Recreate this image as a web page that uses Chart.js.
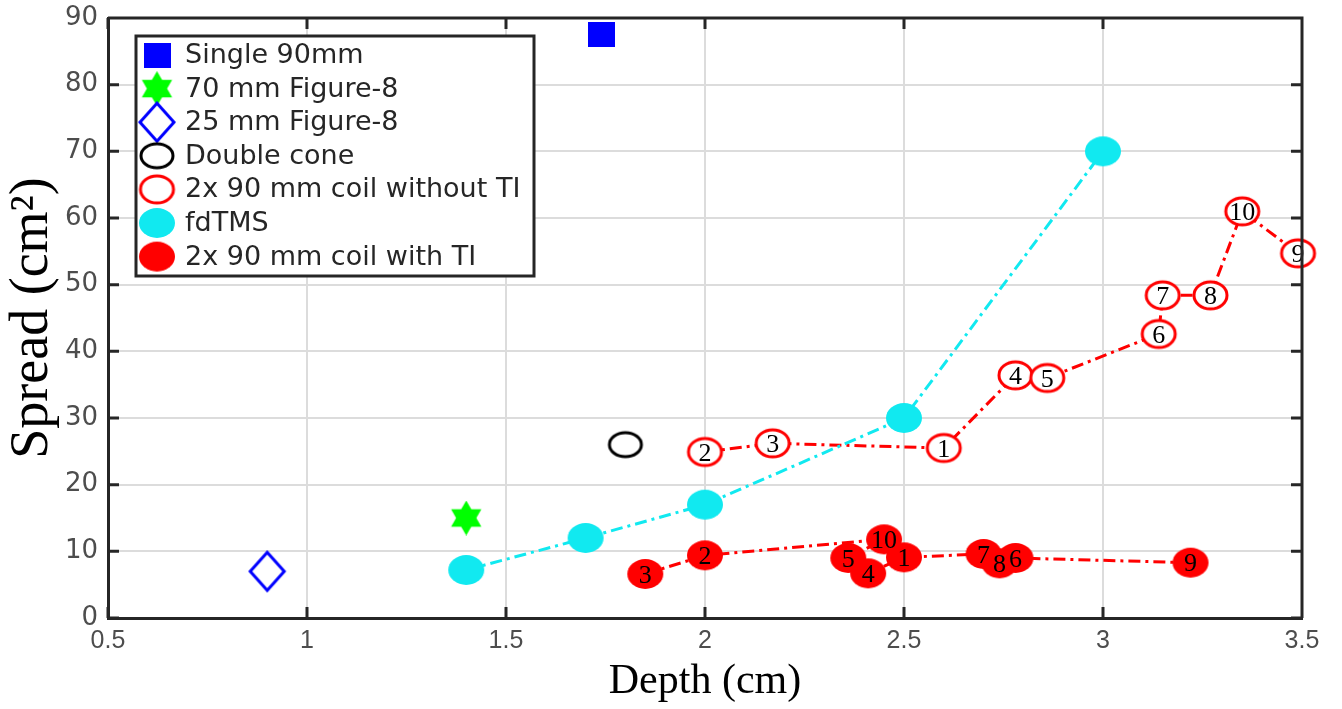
<!DOCTYPE html>
<html>
<head>
<meta charset="utf-8">
<script src="https://cdn.jsdelivr.net/npm/chart.js@4.4.1/dist/chart.umd.min.js"></script>
<style>
  body { margin: 0; background: #fff; }
  #chart { display: block; }
</style>
</head>
<body>
<canvas id="chart" width="1342" height="709"></canvas>
<script>
// values
var singleX = [1.74], singleY = [87.5];
var fig70X = [1.4], fig70Y = [15];
var fig25X = [0.9], fig25Y = [7];
var coneX = [1.8], coneY = [26];
var fdtmsX = [1.4, 1.7, 2.0, 2.5, 3.0];
var fdtmsY = [7.2, 12, 17, 30, 70];
var noTiNum = [2, 3, 1, 4, 5, 6, 7, 8, 10, 9];
var noTiX = [2.0, 2.17, 2.6, 2.78, 2.86, 3.14, 3.15, 3.27, 3.35, 3.49];
var noTiY = [24.9, 26.2, 25.5, 36.4, 36.0, 42.6, 48.4, 48.4, 61.0, 54.7];
var withTiNum = [3, 2, 10, 5, 4, 1, 7, 8, 6, 9];
var withTiX = [1.85, 2.0, 2.45, 2.36, 2.41, 2.5, 2.70, 2.74, 2.78, 3.22];
var withTiY = [6.6, 9.4, 11.8, 9.0, 6.7, 9.1, 9.6, 8.2, 9.0, 8.3];
var xTicks = [0.5, 1, 1.5, 2, 2.5, 3, 3.5];

var RED = '#ff0000', CYAN = '#11e9f0', BLUE = '#0000ff', GREEN = '#00ff00';

function pts(xs, ys) { return xs.map(function (x, i) { return { x: x, y: ys[i] }; }); }

function ellipseImg(w, h, fill, stroke, lw) {
    lw = lw || 0;
    var c = document.createElement('canvas');
    c.width = w + lw * 2 + 2; c.height = h + lw * 2 + 2;
    var g = c.getContext('2d');
    g.beginPath(); g.ellipse(c.width / 2, c.height / 2, w / 2, h / 2, 0, 0, Math.PI * 2);
    if (fill) { g.fillStyle = fill; g.fill(); }
    if (stroke) { g.lineWidth = lw; g.strokeStyle = stroke; g.stroke(); }
    return c;
}
function squareImg(w, h, fill) {
    var c = document.createElement('canvas'); c.width = w; c.height = h;
    var g = c.getContext('2d'); g.fillStyle = fill; g.fillRect(0, 0, w, h);
    return c;
}
function diamondImg(w, h, stroke, lw) {
    var c = document.createElement('canvas'); c.width = w + lw * 2; c.height = h + lw * 2;
    var g = c.getContext('2d'); var cx = c.width / 2, cy = c.height / 2;
    g.beginPath(); g.moveTo(cx, cy - h / 2); g.lineTo(cx + w / 2, cy); g.lineTo(cx, cy + h / 2); g.lineTo(cx - w / 2, cy); g.closePath();
    g.lineWidth = lw; g.strokeStyle = stroke; g.lineJoin = 'miter'; g.stroke();
    return c;
}
function hexagramImg(s, fill) {
    var c = document.createElement('canvas'); c.width = s; c.height = s;
    var g = c.getContext('2d'); var r = s / 2, cx = s / 2, cy = s / 2;
    g.fillStyle = fill;
    [-90, 90].forEach(function (a0) {
        g.beginPath();
        for (var k = 0; k < 3; k++) {
            var a = (a0 + k * 120) * Math.PI / 180;
            var px = cx + r * Math.cos(a), py = cy + r * Math.sin(a);
            if (k === 0) g.moveTo(px, py); else g.lineTo(px, py);
        }
        g.closePath(); g.fill();
    });
    return c;
}

var styles = {
    single: squareImg(27, 25, BLUE),
    fig70: hexagramImg(35, GREEN),
    fig25: diamondImg(34, 38, BLUE, 3),
    cone: ellipseImg(32, 24, null, '#000', 3),
    noTi: ellipseImg(33, 27, '#fff', RED, 3),
    fdtms: ellipseImg(36, 30, CYAN),
    withTi: ellipseImg(36, 30, RED)
};

var dashDot = [12, 5, 3, 5];

// numbers written inside the red markers
var markerNumbers = {
    id: 'markerNumbers',
    afterDatasetsDraw: function (chart) {
        var ctx = chart.ctx;
        ctx.save();
        ctx.fillStyle = '#000';
        ctx.font = '26px "Liberation Serif", "Times New Roman", serif';
        ctx.textAlign = 'center'; ctx.textBaseline = 'middle';
        chart.data.datasets.forEach(function (ds, i) {
            if (!ds.numbers) return;
            chart.getDatasetMeta(i).data.forEach(function (el, j) {
                ctx.fillText(String(ds.numbers[j]), el.x, el.y + 2);
            });
        });
        ctx.restore();
    }
};

// matlab style box: top/right border and inward ticks
var boxTicks = {
    id: 'boxTicks',
    afterDraw: function (chart) {
        var ctx = chart.ctx, a = chart.chartArea;
        var xs = chart.scales.x, ys = chart.scales.y, len = 11;
        ctx.save();
        ctx.strokeStyle = '#262626'; ctx.lineWidth = 3;
        ctx.beginPath();
        ctx.moveTo(a.left, a.top); ctx.lineTo(a.right, a.top); ctx.lineTo(a.right, a.bottom);
        xTicks.forEach(function (v) {
            var px = xs.getPixelForValue(v);
            ctx.moveTo(px, a.bottom); ctx.lineTo(px, a.bottom - len);
            ctx.moveTo(px, a.top); ctx.lineTo(px, a.top + len);
        });
        for (var v = 0; v <= 90; v += 10) {
            var py = ys.getPixelForValue(v);
            ctx.moveTo(a.left, py); ctx.lineTo(a.left + len, py);
            ctx.moveTo(a.right, py); ctx.lineTo(a.right - len, py);
        }
        ctx.stroke();
        ctx.restore();
    }
};

// legend box drawn inside the plot, top left
var boxLegend = {
    id: 'boxLegend',
    afterDraw: function (chart) {
        var ctx = chart.ctx;
        var x0 = 136, y0 = 36, w = 398, h = 240, row = 33.6;
        ctx.save();
        ctx.fillStyle = '#fff'; ctx.fillRect(x0, y0, w, h);
        ctx.strokeStyle = '#262626'; ctx.lineWidth = 3; ctx.strokeRect(x0, y0, w, h);
        ctx.font = '27px "DejaVu Sans", "Liberation Sans", Arial, sans-serif';
        ctx.fillStyle = '#262626'; ctx.textBaseline = 'middle'; ctx.textAlign = 'left';
        chart.data.datasets.forEach(function (ds, i) {
            var cy = y0 + 19 + i * row;
            var img = ds.pointStyle;
            ctx.drawImage(img, 157 - img.width / 2, cy - img.height / 2);
            ctx.fillText(ds.label, 185, cy + 1);
        });
        ctx.restore();
    }
};

new Chart(document.getElementById('chart').getContext('2d'), {
    type: 'scatter',
    data: {
        datasets: [
            { label: 'Single 90mm', data: pts(singleX, singleY), pointStyle: styles.single, order: 1, clip: false },
            { label: '70 mm Figure-8', data: pts(fig70X, fig70Y), pointStyle: styles.fig70, order: 1, clip: false },
            { label: '25 mm Figure-8', data: pts(fig25X, fig25Y), pointStyle: styles.fig25, order: 1, clip: false },
            { label: 'Double cone', data: pts(coneX, coneY), pointStyle: styles.cone, order: 1, clip: false },
            { label: '2x 90 mm coil without TI', data: pts(noTiX, noTiY), numbers: noTiNum, pointStyle: styles.noTi,
              showLine: true, borderColor: RED, borderWidth: 3, borderDash: dashDot, order: 3, clip: false },
            { label: 'fdTMS', data: pts(fdtmsX, fdtmsY), pointStyle: styles.fdtms,
              showLine: true, borderColor: CYAN, borderWidth: 3, borderDash: dashDot, order: 2, clip: false },
            { label: '2x 90 mm coil with TI', data: pts(withTiX, withTiY), numbers: withTiNum, pointStyle: styles.withTi,
              showLine: true, borderColor: RED, borderWidth: 3, borderDash: dashDot, order: 4, clip: false }
        ]
    },
    options: {
        responsive: false,
        animation: false,
        devicePixelRatio: 1,
        layout: { padding: { top: 18, right: 40, left: 0, bottom: 0 } },
        plugins: { legend: { display: false }, tooltip: { enabled: false } },
        scales: {
            x: {
                type: 'linear', min: 0.5, max: 3.5,
                afterBuildTicks: function (s) { s.ticks = xTicks.map(function (v) { return { value: v }; }); },
                afterFit: function (s) { s.height = 91; s.paddingLeft = 0; s.paddingRight = 0; },
                grid: { color: '#dcdcdc', lineWidth: 2, drawTicks: false },
                border: { color: '#262626', width: 3 },
                ticks: { color: '#4d4d4d', padding: 8,
                         callback: function (v) { return String(v); },
                         font: { family: '"Liberation Sans Narrow", "Liberation Sans", Arial', size: 25 } },
                title: { display: true, text: 'Depth (cm)', color: '#000', padding: { top: 0, bottom: 2 },
                         font: { family: '"Liberation Serif", "Times New Roman", serif', size: 42 } }
            },
            y: {
                min: 0, max: 90,
                ticks: { stepSize: 10, color: '#4d4d4d', padding: 10,
                         font: { family: '"DejaVu Sans", Arial', size: 26 } },
                afterFit: function (s) { s.width = 108; s.paddingTop = 0; s.paddingBottom = 0; },
                grid: { color: '#dcdcdc', lineWidth: 2, drawTicks: false },
                border: { color: '#262626', width: 3 },
                title: { display: true, text: 'Spread (cm²)', color: '#000', padding: { top: 0, bottom: 0 },
                         font: { family: '"Liberation Serif", "Times New Roman", serif', size: 54 } }
            }
        }
    },
    plugins: [markerNumbers, boxTicks, boxLegend]
});
</script>
</body>
</html>
